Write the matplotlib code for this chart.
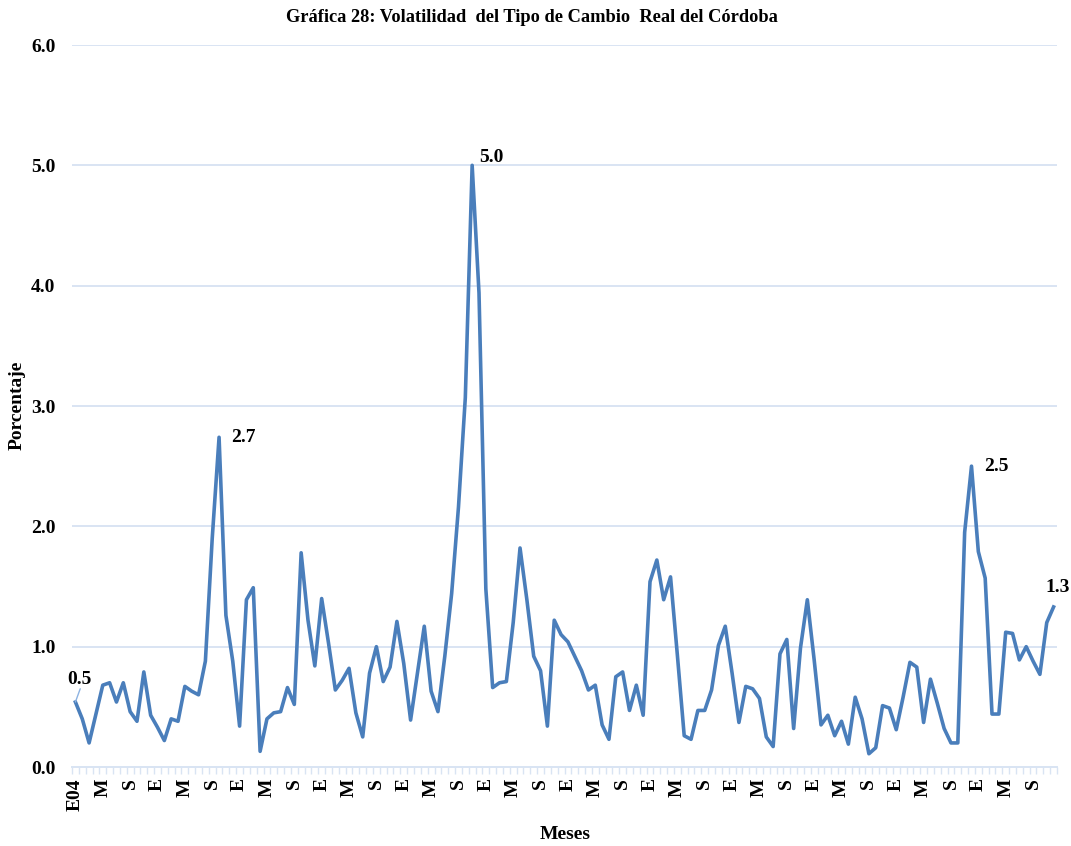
import matplotlib
matplotlib.use("Agg")
import matplotlib.pyplot as plt
import numpy as np

# Monthly volatility of the real exchange rate, Jan 2004 - Dec 2015 (percent)
volatilidad = [
    0.54, 0.40, 0.20, 0.44, 0.68, 0.70, 0.54, 0.70, 0.46, 0.38, 0.79, 0.43,
    0.33, 0.22, 0.40, 0.38, 0.67, 0.63, 0.60, 0.88, 1.90, 2.74, 1.26, 0.88,
    0.34, 1.39, 1.49, 0.13, 0.40, 0.45, 0.46, 0.66, 0.52, 1.78, 1.22, 0.84,
    1.40, 1.03, 0.64, 0.72, 0.82, 0.45, 0.25, 0.78, 1.00, 0.71, 0.83, 1.21,
    0.86, 0.39, 0.78, 1.17, 0.63, 0.46, 0.92, 1.44, 2.16, 3.07, 5.00, 3.94,
    1.48, 0.66, 0.70, 0.71, 1.20, 1.82, 1.39, 0.92, 0.80, 0.34, 1.22, 1.10,
    1.04, 0.92, 0.80, 0.64, 0.68, 0.35, 0.23, 0.75, 0.79, 0.47, 0.68, 0.43,
    1.54, 1.72, 1.39, 1.58, 0.93, 0.26, 0.23, 0.47, 0.47, 0.64, 1.01, 1.17,
    0.78, 0.37, 0.67, 0.65, 0.57, 0.25, 0.17, 0.94, 1.06, 0.32, 0.99, 1.39,
    0.89, 0.35, 0.43, 0.26, 0.38, 0.19, 0.58, 0.40, 0.11, 0.16, 0.51, 0.49,
    0.31, 0.58, 0.87, 0.83, 0.37, 0.73, 0.53, 0.32, 0.20, 0.20, 1.95, 2.50,
    1.79, 1.57, 0.44, 0.44, 1.12, 1.11, 0.89, 1.00, 0.88, 0.77, 1.20, 1.33,
]

# Month initials shown every four months (Enero, Mayo, Septiembre)
etiquetas_mes = ["E", "M", "S"]
primera_etiqueta = "E04"

# Points that carry a value label: (month index, text)
puntos_rotulados = [(0, "0.5"), (21, "2.7"), (58, "5.0"), (131, "2.5"), (143, "1.3")]

titulo = "Gráfica 28: Volatilidad  del Tipo de Cambio  Real del Córdoba"
eje_x = "Meses"
eje_y = "Porcentaje"

FONT = "Liberation Serif"
LINE = "#4A7EBB"
GRID = "#D9E4F3"

n = len(volatilidad)
x = np.arange(n)

fig = plt.figure(figsize=(10.71, 8.46), dpi=100)
ax = fig.add_axes([72 / 1071, 79 / 846, 985 / 1071, 722 / 846])

ax.plot(x, volatilidad, color=LINE, lw=2.6, solid_joinstyle="round", zorder=3)

ax.set_xlim(-0.5, n - 0.5)
ax.set_ylim(0, 6)
yt = np.arange(0, 6.01, 1.0)
ax.set_yticks(yt)
ax.set_yticklabels([f"{v:.1f}" for v in yt],
                   fontfamily=FONT, fontweight="bold", fontsize=14)
ax.yaxis.grid(True, color=GRID, lw=1.4)
ax.set_axisbelow(True)
ax.tick_params(axis="y", length=0, pad=12)

for s in ["top", "right", "left"]:
    ax.spines[s].set_visible(False)
ax.spines["bottom"].set_color(GRID)
ax.spines["bottom"].set_linewidth(1.4)

# Month ticks at category boundaries, labels every four months
ax.set_xticks(np.arange(-0.5, n, 1.0), minor=True)
ax.tick_params(axis="x", which="minor", length=5, color=GRID, width=1.0)
label_pos = np.arange(0, n, 4)
labels = []
for k, p in enumerate(label_pos):
    labels.append(primera_etiqueta if p == 0 else etiquetas_mes[k % 3])
ax.set_xticks(label_pos)
ax.set_xticklabels(labels, rotation=90, fontfamily=FONT, fontweight="bold",
                   fontsize=14, va="top")
ax.tick_params(axis="x", which="major", length=0, pad=8)

lbl = dict(fontfamily=FONT, fontweight="bold", fontsize=14)

# Value labels
for idx, txt in puntos_rotulados:
    v = volatilidad[idx]
    if idx == 0:
        # short leader line from the first point to its label
        ax.annotate("", xy=(idx, v), xytext=(idx + 0.7, v + 0.11),
                    arrowprops=dict(arrowstyle="-", color="#8DB3E2", lw=1.0,
                                    shrinkA=0, shrinkB=0))
        ax.text(idx - 1.2, v + 0.12, txt, ha="left", va="bottom", **lbl)
    elif idx == n - 1:
        ax.annotate(txt, xy=(idx, v), xytext=(-6, 8), textcoords="offset points",
                    ha="left", va="bottom", **lbl)
    elif v >= 4.5:
        ax.annotate(txt, xy=(idx, v), xytext=(5, 6), textcoords="offset points",
                    ha="left", va="center", **lbl)
    else:
        ax.annotate(txt, xy=(idx, v), xytext=(9, 0), textcoords="offset points",
                    ha="left", va="center", **lbl)

fig.text(532 / 1071, 1 - 18 / 846, titulo, ha="center", va="center",
         fontfamily=FONT, fontweight="bold", fontsize=13.2)
fig.text(565 / 1071, 1 - 834 / 846, eje_x, ha="center", va="center",
         fontfamily=FONT, fontweight="bold", fontsize=14)
fig.text(17 / 1071, 1 - 405 / 846, eje_y, ha="center", va="center",
         rotation=90, fontfamily=FONT, fontweight="bold", fontsize=14)

fig.savefig("out.png", dpi=100, facecolor="white")
